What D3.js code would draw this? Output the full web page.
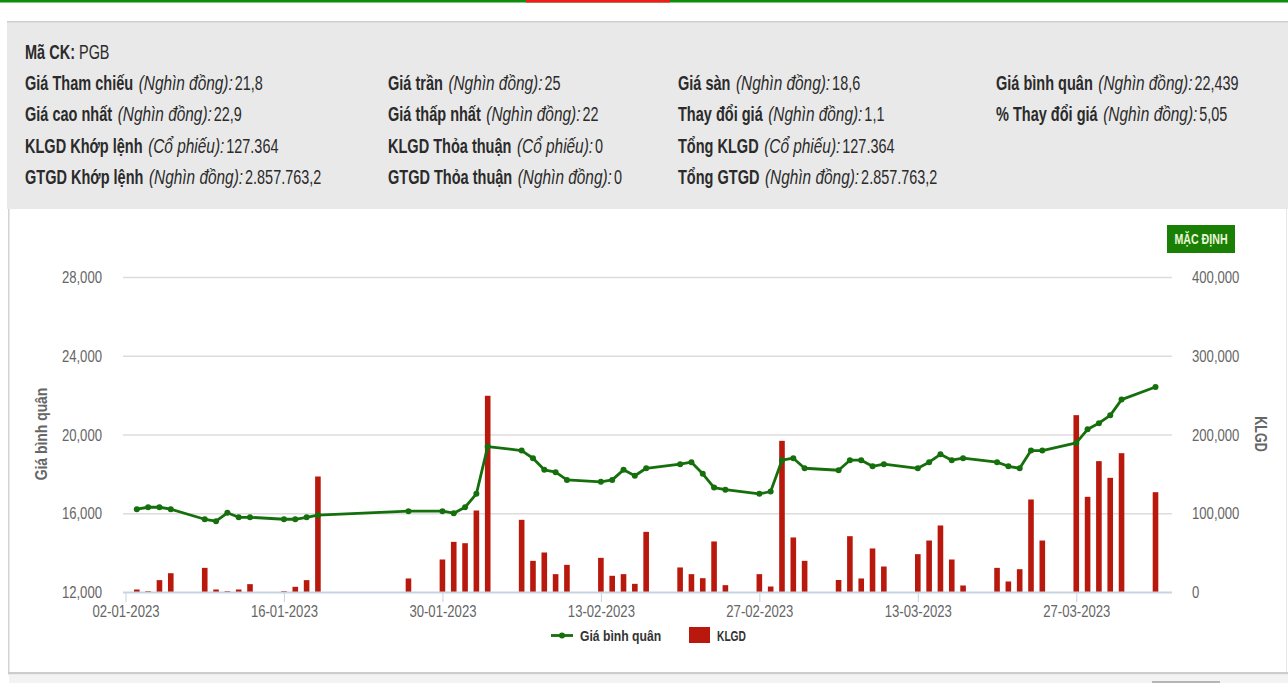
<!DOCTYPE html>
<html><head><meta charset="utf-8">
<script src="https://cdn.jsdelivr.net/npm/d3@7/dist/d3.min.js"></script>
<style>html,body{margin:0;padding:0;background:#fff;overflow:hidden}svg{display:block}</style>
</head><body><svg id="c" width="1288" height="683"></svg>
<script>
const dates=["2023-01-03","2023-01-04","2023-01-05","2023-01-06","2023-01-09","2023-01-10","2023-01-11","2023-01-12","2023-01-13","2023-01-16","2023-01-17","2023-01-18","2023-01-19","2023-01-27","2023-01-30","2023-01-31","2023-02-01","2023-02-02","2023-02-03","2023-02-06","2023-02-07","2023-02-08","2023-02-09","2023-02-10","2023-02-13","2023-02-14","2023-02-15","2023-02-16","2023-02-17","2023-02-20","2023-02-21","2023-02-22","2023-02-23","2023-02-24","2023-02-27","2023-02-28","2023-03-01","2023-03-02","2023-03-03","2023-03-06","2023-03-07","2023-03-08","2023-03-09","2023-03-10","2023-03-13","2023-03-14","2023-03-15","2023-03-16","2023-03-17","2023-03-20","2023-03-21","2023-03-22","2023-03-23","2023-03-24","2023-03-27","2023-03-28","2023-03-29","2023-03-30","2023-03-31","2023-04-03"];
const avgPrice=[16230,16330,16330,16230,15720,15620,16050,15820,15820,15720,15720,15820,15930,16130,16130,16030,16330,17010,19415,19210,18820,18230,18110,17720,17620,17720,18230,17930,18310,18520,18620,18030,17330,17220,17010,17130,18720,18820,18310,18210,18720,18720,18410,18520,18310,18620,19020,18720,18820,18620,18410,18310,19210,19210,19600,20290,20600,21000,21800,22439];
const volume=[3800,1700,15700,24500,31300,3800,1700,3800,10600,1700,7200,15700,147300,17800,41900,64300,62600,104100,249800,92300,40200,50800,23300,35100,44000,21200,23300,11000,77000,31800,23300,18200,64800,9300,23300,7600,192600,69900,40200,15900,71500,17800,55900,33000,48700,66000,85100,41900,8900,31300,14000,29600,118100,66000,225200,121500,166800,145600,176900,127364];
const priceTicks=[12000,16000,20000,24000,28000];
const volumeTicks=[0,100000,200000,300000,400000];
const xTickDates=["2023-01-02","2023-01-16","2023-01-30","2023-02-13","2023-02-27","2023-03-13","2023-03-27"];
const seriesNames=["Giá bình quân","KLGD"];
const infoTitle=["Mã CK:","PGB"];
const col1=[["Giá Tham chiếu","(Nghìn đồng):","21,8"],["Giá cao nhất","(Nghìn đồng):","22,9"],["KLGD Khớp lệnh","(Cổ phiếu):","127.364"],["GTGD Khớp lệnh","(Nghìn đồng):","2.857.763,2"]];
const col2=[["Giá trần","(Nghìn đồng):","25"],["Giá thấp nhất","(Nghìn đồng):","22"],["KLGD Thỏa thuận","(Cổ phiếu):","0"],["GTGD Thỏa thuận","(Nghìn đồng):","0"]];
const col3=[["Giá sàn","(Nghìn đồng):","18,6"],["Thay đổi giá","(Nghìn đồng):","1,1"],["Tổng KLGD","(Cổ phiếu):","127.364"],["Tổng GTGD","(Nghìn đồng):","2.857.763,2"]];
const col4=[["Giá bình quân","(Nghìn đồng):","22,439"],["% Thay đổi giá","(Nghìn đồng):","5,05"]];
const buttonLabel="MẶC ĐỊNH";

const FONT="'Liberation Sans',sans-serif";
const svg=d3.select("#c").style("font-family",FONT);
const parse=d3.utcParse("%Y-%m-%d"), fmtD=d3.utcFormat("%d-%m-%Y");
const L=123,R=1172;
const x=d3.scaleUtc().domain([parse("2023-01-02"),parse("2023-04-03")]).range([125.5,1155.5]);
const yP=d3.scaleLinear().domain([12000,28000]).range([592.5,277.5]);
const yV=d3.scaleLinear().domain([0,400000]).range([592.5,277.5]);

// page frame
svg.append("rect").attr("width",1288).attr("height",2.5).attr("fill","#0e8c0e");
svg.append("rect").attr("x",526).attr("width",144).attr("height",2.5).attr("fill","#ee1c1c");
svg.append("rect").attr("x",7).attr("y",21.5).attr("width",1281).attr("height",187.5).attr("fill","#e9e9e9");
svg.append("rect").attr("x",7).attr("y",21).attr("width",1281).attr("height",1.5).attr("fill","#cfcfcf");
svg.append("rect").attr("x",8).attr("y",209).attr("width",1.5).attr("height",464).attr("fill","#d4d4d4");
svg.append("rect").attr("x",1286).attr("y",209).attr("width",1).attr("height",464).attr("fill","#e6e6e6");
svg.append("rect").attr("x",8).attr("y",672).attr("width",1280).attr("height",2.5).attr("fill","#cccccc");
svg.append("rect").attr("x",9).attr("y",674.5).attr("width",1279).attr("height",9).attr("fill","#f3f3f3");
svg.append("rect").attr("x",1152).attr("y",681).attr("width",68).attr("height",2).attr("fill","#b5b5b5");

// info block: condensed face obtained by horizontal scaling, parts laid out by measured width
const INFO=19.5, SXB=.745, SXI=.79, SXR=.74;
function part(px,py,str,sx,weight,style){
  const t=svg.append("text").attr("transform",`translate(${px},${py}) scale(${sx},1)`)
    .attr("font-size",INFO).attr("fill","#2b2b2b").attr("font-weight",weight).attr("font-style",style).text(str);
  return px+t.node().getComputedTextLength()*sx;
}
function row(px,py,p){
  let c=part(px,py,p[0],SXB,700,"normal")+5.5;
  c=part(c,py,p[1],SXI,400,"italic")+2;
  part(c,py,p[2],SXR,400,"normal");
}
const cT=part(25,59,infoTitle[0],SXB,700,"normal")+4;
part(cT,59,infoTitle[1],SXR,400,"normal");
const rowY=[90,121,153,184];
[[col1,25],[col2,388],[col3,678],[col4,996]].forEach(([c,px])=>c.forEach((p,i)=>row(px,rowY[i],p)));

// button
svg.append("rect").attr("x",1167).attr("y",225).attr("width",68).attr("height",28).attr("fill","#1a8005");
svg.append("text").attr("transform","translate(1201,244) scale(.76,1)").attr("text-anchor","middle").attr("font-size",14).attr("font-weight",700).attr("fill","#eaf6d8").text(buttonLabel);

// grid
svg.append("g").selectAll("line").data(priceTicks.slice(1)).join("line")
 .attr("x1",L).attr("x2",R).attr("y1",d=>yP(d)).attr("y2",d=>yP(d)).attr("stroke","#dcdcdc").attr("stroke-width",1.6);

// bars
const bw=5.6;
svg.append("g").selectAll("rect").data(dates).join("rect")
 .attr("x",d=>x(parse(d))-bw/2).attr("width",bw)
 .attr("y",(d,i)=>yV(volume[i])).attr("height",(d,i)=>yV(0)-yV(volume[i]))
 .attr("fill","#b9180d");

// axes
const axisStyle=g=>{g.select(".domain").remove();g.selectAll("text").attr("fill","#666").attr("font-size",16).attr("font-family",FONT).attr("transform","scale(.82,1)");};
svg.append("g").attr("transform","translate(102,0)").call(d3.axisLeft(yP).tickValues(priceTicks).tickSize(0).tickPadding(0).tickFormat(d3.format(","))).call(axisStyle);
svg.append("g").attr("transform","translate(1192,0)").call(d3.axisRight(yV).tickValues(volumeTicks).tickSize(0).tickPadding(0).tickFormat(d3.format(","))).call(axisStyle);
const xa=svg.append("g").attr("transform","translate(0,592)").call(d3.axisBottom(x).tickValues(xTickDates.map(parse)).tickSize(10).tickPadding(4).tickFormat(fmtD));
xa.call(axisStyle);xa.selectAll("line").attr("stroke","#c6d3e2");
svg.append("line").attr("x1",L).attr("x2",R).attr("y1",592.5).attr("y2",592.5).attr("stroke","#c6d3e2").attr("stroke-width",2);

// line
const line=d3.line().x(d=>x(parse(d))).y((d,i)=>yP(avgPrice[i]));
svg.append("path").datum(dates).attr("d",line).attr("fill","none").attr("stroke","#156f0c").attr("stroke-width",2.8).attr("stroke-linejoin","round");
svg.append("g").selectAll("circle").data(dates).join("circle")
 .attr("cx",d=>x(parse(d))).attr("cy",(d,i)=>yP(avgPrice[i])).attr("r",3).attr("fill","#156f0c");

// axis titles
svg.append("text").attr("transform","translate(47,434) rotate(-90) scale(.87,1)").attr("text-anchor","middle").attr("font-size",16).attr("font-weight",700).attr("fill","#666").text(seriesNames[0]);
svg.append("text").attr("transform","translate(1255,434) rotate(90) scale(.78,1)").attr("text-anchor","middle").attr("font-size",16).attr("font-weight",700).attr("fill","#666").text(seriesNames[1]);

// legend
svg.append("line").attr("x1",551).attr("x2",573).attr("y1",635.5).attr("y2",635.5).attr("stroke","#156f0c").attr("stroke-width",2.8);
svg.append("circle").attr("cx",562).attr("cy",635.5).attr("r",3).attr("fill","#156f0c");
svg.append("text").attr("transform","translate(580,641) scale(.87,1)").attr("font-size",14).attr("font-weight",700).attr("fill","#333").text(seriesNames[0]);
svg.append("rect").attr("x",689).attr("y",627).attr("width",21).attr("height",16).attr("fill","#b9180d");
svg.append("text").attr("transform","translate(717,641) scale(.73,1)").attr("font-size",14).attr("font-weight",700).attr("fill","#333").text(seriesNames[1]);
</script></body></html>
